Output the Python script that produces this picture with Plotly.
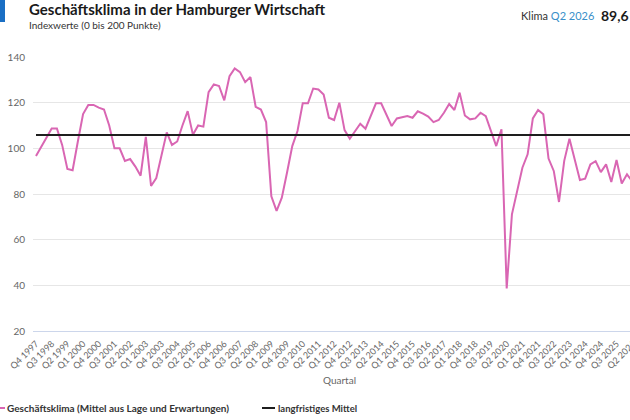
import plotly.graph_objects as go

# ---------------- data ----------------
QUARTER_LABELS = []
y, q = 1997, 4
for _ in range(115):
    QUARTER_LABELS.append(f"Q{q} {y}")
    q += 1
    if q > 4:
        q = 1
        y += 1

CLIMATE = [
    96.6, 100.5, 104.5, 108.7, 108.7, 101.5, 91.0, 90.4, 103.0, 115.0,
    119.0, 119.0, 117.8, 117.0, 110.0, 100.0, 100.0, 94.5, 95.3, 92.0,
    88.0, 105.0, 83.5, 87.0, 97.0, 107.0, 101.5, 103.0, 110.0, 116.3,
    106.0, 110.0, 109.5, 124.6, 128.0, 127.3, 121.0, 131.6, 135.0, 133.4,
    129.0, 131.2, 118.2, 117.0, 111.5, 79.0, 72.6, 78.4, 89.4, 101.0,
    107.6, 119.7, 119.7, 126.2, 125.8, 123.6, 113.4, 112.4, 120.0, 108.0,
    104.2, 107.6, 110.8, 108.6, 114.0, 119.7, 119.7, 114.9, 109.8, 113.1,
    113.7, 114.1, 113.4, 116.2, 115.2, 113.9, 111.5, 112.4, 115.6, 119.4,
    116.8, 124.4, 114.4, 112.7, 113.1, 115.6, 114.1, 107.6, 101.0, 108.3,
    38.6, 71.1, 82.1, 91.5, 97.4, 113.1, 116.8, 114.9, 95.5, 90.1,
    76.5, 94.5, 104.2, 95.2, 86.1, 86.7, 93.0, 94.4, 89.6, 93.0,
    85.3, 94.9, 84.6, 88.6, 85.5,
]
LONG_TERM_MEAN = 105.8
Y_TICKS = [20, 40, 60, 80, 100, 120, 140]
LABEL_STEP = 3

# ---------------- layout helpers ----------------
W, H = 630, 420
ML, MR, MT, MB = 33, 0, 57, 89
PW, PH = W - ML - MR, H - MT - MB
FONT = "Lato"
PINK = "#d966b3"


def px(xp):
    return (xp - ML) / PW


def py(yp):
    return (H - MB - yp) / PH


idx = list(range(len(CLIMATE)))
tickvals = idx[::LABEL_STEP]
ticktext = [QUARTER_LABELS[i] for i in tickvals]

fig = go.Figure()
fig.add_trace(go.Scatter(
    x=idx, y=CLIMATE, mode="lines",
    line=dict(color=PINK, width=2), showlegend=False, hoverinfo="skip",
))
fig.add_trace(go.Scatter(
    x=[idx[0], idx[-1]], y=[LONG_TERM_MEAN, LONG_TERM_MEAN], mode="lines",
    line=dict(color="#1e1e1e", width=2), showlegend=False, hoverinfo="skip",
))

annotations = [
    dict(text="<b>Geschäftsklima in der Hamburger Wirtschaft</b>", x=px(27), y=py(9),
         xanchor="left", yanchor="middle", font=dict(family=FONT, size=15, color="#1a1a1a")),
    dict(text="Indexwerte (0 bis 200 Punkte)", x=px(27), y=py(25),
         xanchor="left", yanchor="middle", font=dict(family=FONT, size=10, color="#333")),
    dict(text="Klima <span style='color:#3a8fc9'>Q2 2026</span>", x=px(596), y=py(15),
         xanchor="right", yanchor="middle", font=dict(family=FONT, size=11, color="#333")),
    dict(text="<b>89,6</b>", x=px(631), y=py(15),
         xanchor="right", yanchor="middle", font=dict(family=FONT, size=14, color="#1a1a1a")),
    dict(text="Quartal", x=px(339), y=py(380),
         xanchor="center", yanchor="middle", font=dict(family=FONT, size=10, color="#666")),
    dict(text="<b>Geschäftsklima (Mittel aus Lage und Erwartungen)</b>", x=px(5), y=py(408),
         xanchor="left", yanchor="middle", font=dict(family=FONT, size=10, color="#333")),
    dict(text="<b>langfristiges Mittel</b>", x=px(276), y=py(408),
         xanchor="left", yanchor="middle", font=dict(family=FONT, size=9.5, color="#333")),
    dict(text="Q2 2026", x=px(621), y=py(354), textangle=-45,
         xanchor="center", yanchor="middle", font=dict(family=FONT, size=9, color="#666")),
]
for a in annotations:
    a.update(xref="paper", yref="paper", showarrow=False)

shapes = [
    dict(type="rect", xref="paper", yref="paper", x0=px(0), x1=px(5), y0=py(0), y1=py(22),
         fillcolor="#1a6fc4", line=dict(width=0)),
    dict(type="line", xref="paper", yref="paper", x0=px(-2), x1=px(5), y0=py(408), y1=py(408),
         line=dict(color=PINK, width=2)),
    dict(type="line", xref="paper", yref="paper", x0=px(262), x1=px(275), y0=py(408), y1=py(408),
         line=dict(color="#1e1e1e", width=2)),
]

fig.update_layout(
    width=W, height=H,
    margin=dict(l=ML, r=MR, t=MT, b=MB, autoexpand=False),
    paper_bgcolor="white", plot_bgcolor="white",
    font=dict(family=FONT, color="#666"),
    annotations=annotations, shapes=shapes,
    xaxis=dict(
        range=[(ML - 36) / 5.23, (W - 36) / 5.23],
        tickmode="array", tickvals=tickvals, ticktext=ticktext, tickangle=-45,
        tickfont=dict(family=FONT, size=9, color="#666"),
        showgrid=False, zeroline=False, showline=True, linecolor="#ccd6eb", linewidth=1,
        ticks="", ticklabelstandoff=3, automargin=False,
    ),
    yaxis=dict(
        range=[20, 140], tickmode="array", tickvals=Y_TICKS,
        tickfont=dict(family=FONT, size=10, color="#666"),
        showgrid=True, gridcolor="#e6e6e6", gridwidth=1, zeroline=False,
        ticks="", ticklabelstandoff=7, automargin=False,
    ),
)

fig.write_html("out.html")
